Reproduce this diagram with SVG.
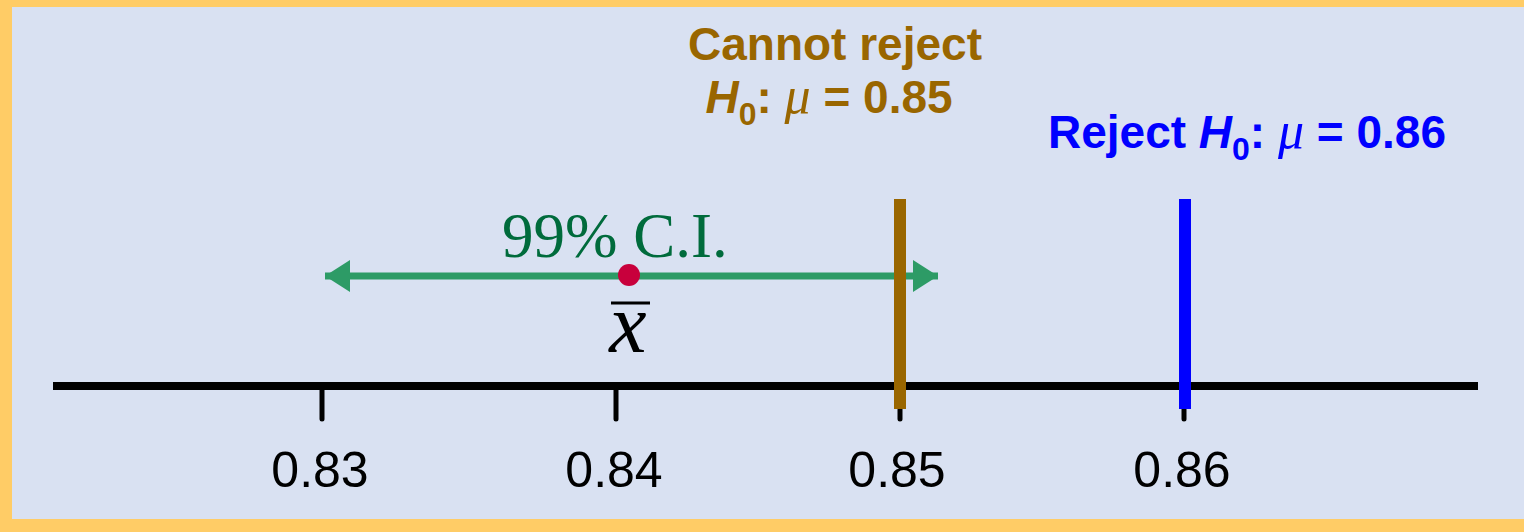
<svg xmlns="http://www.w3.org/2000/svg" width="1524" height="532" viewBox="0 0 1524 532">
<style>
.bold{font-family:"Liberation Sans",Arial,sans-serif;font-weight:bold;font-size:46px}
.tick{stroke:#000;stroke-width:5;stroke-linecap:round}
.lbl{font-family:"Liberation Sans",Arial,sans-serif;font-size:50px;fill:#000;text-anchor:middle}
.mu{font-family:"Liberation Serif","Times New Roman",serif;font-style:italic;font-weight:normal}
</style>
<defs>
<marker id="ah" viewBox="0 0 25 32" refX="25" refY="16" markerWidth="25" markerHeight="32" markerUnits="userSpaceOnUse" orient="auto-start-reverse">
<path d="M0,0 L25,16 L0,32 Z" fill="#2D9B66"/>
</marker>
</defs>
<rect x="0" y="0" width="1524" height="532" fill="#FFCC66"/>
<rect x="12" y="7" width="1512" height="512" fill="#D9E1F2"/>
<g id="axis">
<line x1="53" y1="386" x2="1478" y2="386" stroke="#000" stroke-width="8"/>
<line class="tick" x1="322" y1="386" x2="322" y2="419"/>
<line class="tick" x1="616" y1="386" x2="616" y2="419"/>
<line class="tick" x1="900" y1="386" x2="900" y2="419"/>
<line class="tick" x1="1184" y1="386" x2="1184" y2="419"/>
<text class="lbl" x="320" y="487">0.83</text>
<text class="lbl" x="614" y="487">0.84</text>
<text class="lbl" x="897" y="487">0.85</text>
<text class="lbl" x="1182" y="487">0.86</text>
</g>
<g id="connectors">
<line x1="325" y1="276" x2="938" y2="276" stroke="#2D9B66" stroke-width="7" marker-start="url(#ah)" marker-end="url(#ah)"/>
</g>
<g id="ci">
<text x="502" y="257" font-family="Liberation Serif,'Times New Roman',serif" font-size="63" fill="#006B3C">99% C.I.</text>
</g>
<g id="xbar">
<circle cx="629" cy="275" r="11" fill="#C8003C"/>
<line x1="611" y1="303" x2="650" y2="303" stroke="#000" stroke-width="3"/>
<text x="628" y="352" font-family="Liberation Serif,'Times New Roman',serif" font-style="italic" font-size="84" fill="#000" text-anchor="middle">x</text>
</g>
<g id="h085">
<rect x="894" y="199" width="12" height="210" fill="#996600"/>
<text class="bold" x="835" y="60" fill="#996600" text-anchor="middle">Cannot reject</text>
<text class="bold" x="829" y="113" fill="#996600" text-anchor="middle"><tspan font-style="italic">H</tspan><tspan font-size="32" dy="12">0</tspan><tspan dy="-12">: </tspan><tspan class="mu" font-size="52">μ</tspan><tspan> = 0.85</tspan></text>
</g>
<g id="h086">
<rect x="1179" y="199" width="12" height="210" fill="#0000FF"/>
<text class="bold" x="1247" y="148" fill="#0000FF" text-anchor="middle" font-size="47">Reject <tspan font-style="italic">H</tspan><tspan font-size="32" dy="12">0</tspan><tspan dy="-12">: </tspan><tspan class="mu" font-size="52">μ</tspan><tspan> = 0.86</tspan></text>
</g>
</svg>
